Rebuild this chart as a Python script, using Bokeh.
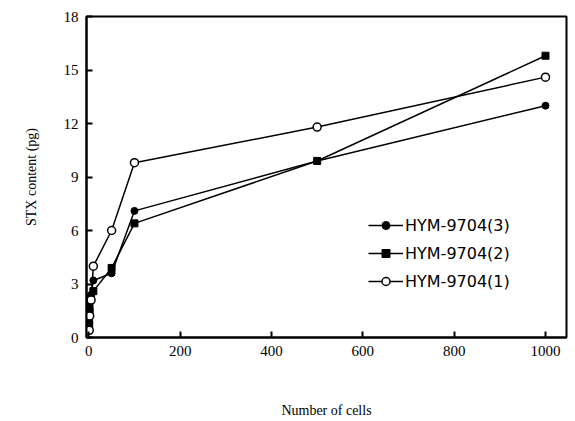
from bokeh.plotting import figure
from bokeh.models import Legend, LegendItem, FixedTicker, Range1d
from bokeh.embed import file_html
from bokeh.resources import INLINE

cells = [1, 2, 5, 10, 50, 100, 500, 1000]
hym1 = [0.4, 1.2, 2.1, 4.0, 6.0, 9.8, 11.8, 14.6]
hym2 = [0.7, 1.5, 2.2, 2.6, 3.9, 6.4, 9.9, 15.8]
hym3 = [0.9, 1.8, 2.4, 3.2, 3.6, 7.1, 9.9, 13.0]
x_ticks = [0, 200, 400, 600, 800, 1000]
y_ticks = [0, 3, 6, 9, 12, 15, 18]

p = figure(width=570, height=420, output_backend="svg", toolbar_location=None,
           x_range=Range1d(-5, 1046), y_range=Range1d(0, 18),
           min_border_left=86, min_border_right=4, min_border_top=16, min_border_bottom=83)
p.grid.visible = False
p.outline_line_color = "black"
p.outline_line_width = 2
p.background_fill_color = "white"

for ax in (p.xaxis[0], p.yaxis[0]):
    ax.axis_line_width = 2
    ax.major_tick_in = 6
    ax.major_tick_out = 0
    ax.major_tick_line_width = 2
    ax.minor_tick_line_color = None
    ax.major_label_text_font = "Liberation Serif"
    ax.major_label_text_font_size = "15px"
    ax.major_label_text_color = "black"
    ax.axis_label_text_font = "Liberation Serif"
    ax.axis_label_text_font_size = "14px"
    ax.axis_label_text_font_style = "normal"
    ax.axis_label_text_color = "black"

p.xaxis.ticker = FixedTicker(ticks=x_ticks)
p.yaxis.ticker = FixedTicker(ticks=y_ticks)
p.xaxis.axis_label = "Number of cells"
p.yaxis.axis_label = "STX content (pg)"
p.xaxis.major_label_standoff = 8
p.xaxis.axis_label_standoff = 44
p.yaxis.major_label_standoff = 8
p.yaxis.axis_label_standoff = 22

l3 = p.line(cells, hym3, line_color="black", line_width=1.5)
m3 = p.scatter(cells, hym3, marker="circle", size=7, fill_color="black", line_color="black")
l2 = p.line(cells, hym2, line_color="black", line_width=1.5)
m2 = p.scatter(cells, hym2, marker="square", size=7, fill_color="black", line_color="black")
l1 = p.line(cells, hym1, line_color="black", line_width=1.5)
m1 = p.scatter(cells, hym1, marker="circle", size=8, fill_color="white", line_color="black", line_width=1.5)

legend = Legend(items=[
    LegendItem(label="HYM-9704(3)", renderers=[l3, m3]),
    LegendItem(label="HYM-9704(2)", renderers=[l2, m2]),
    LegendItem(label="HYM-9704(1)", renderers=[l1, m1]),
], location=(282, 46), orientation="vertical")
legend.background_fill_alpha = 0
legend.border_line_color = None
legend.label_text_font = "DejaVu Sans"
legend.label_text_font_size = "16px"
legend.label_text_color = "black"
legend.glyph_width = 35
legend.glyph_height = 20
legend.label_height = 20
legend.spacing = 8
legend.label_standoff = 2
legend.padding = 0
legend.margin = 0
p.add_layout(legend)

open("out.html", "w").write(file_html(p, INLINE))
